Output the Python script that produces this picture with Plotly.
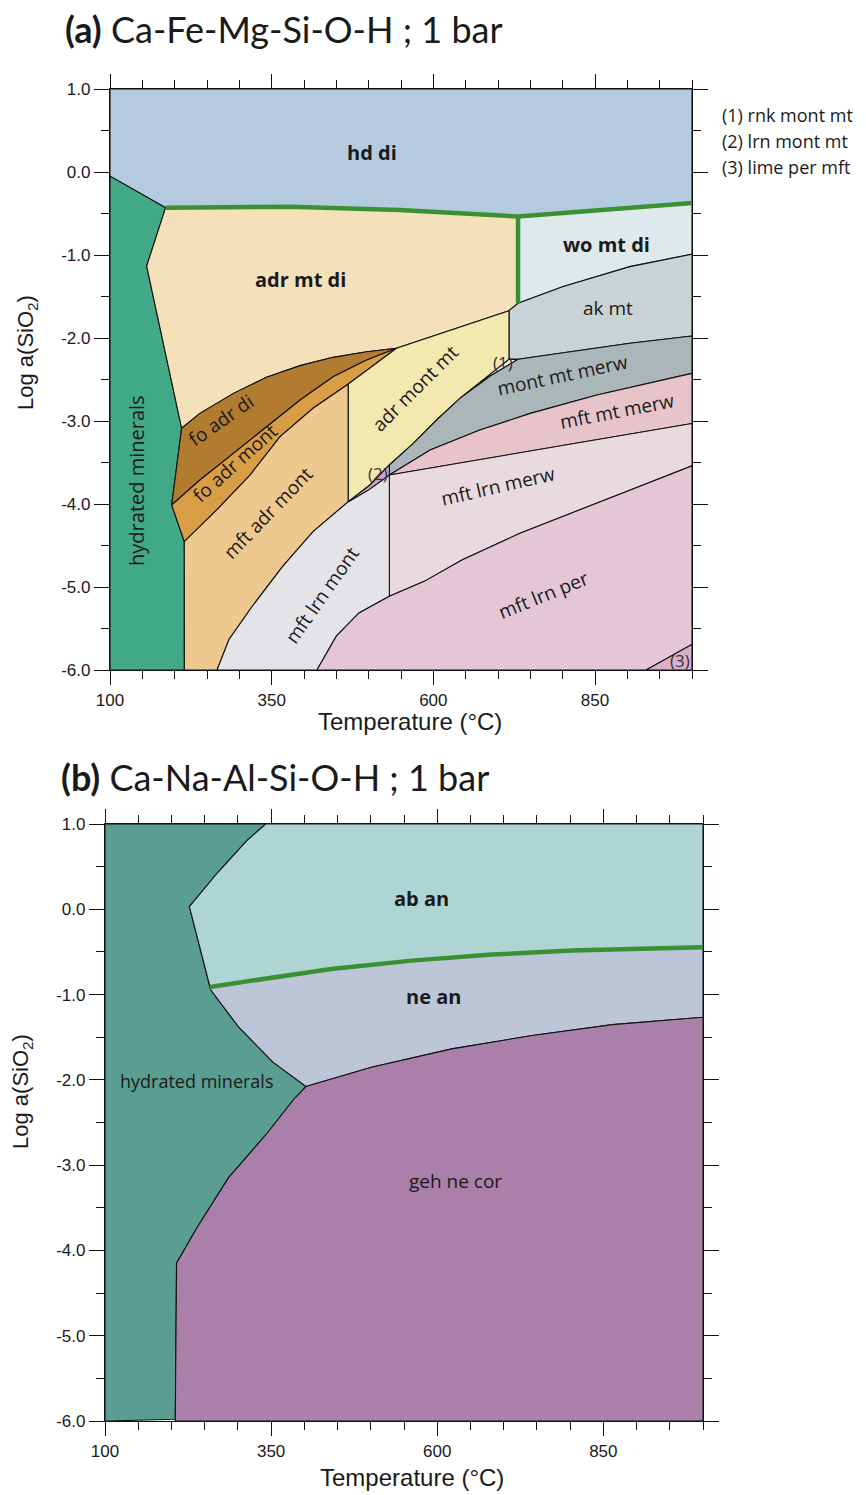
import plotly.graph_objects as go

# ---------------- Panel (a): Ca-Fe-Mg-Si-O-H ; 1 bar -----------------
# Each stability field as polygon vertices: Temperature (°C) and Log a(SiO2)
hd_di_T = [100, 1000, 1000, 731, 657, 548, 378, 186, 100]
hd_di_Y = [1.0, 1.0, -0.373, -0.536, -0.50, -0.458, -0.42, -0.43, -0.05]

hyd_a_T = [100, 186, 156.7, 210.8, 195.4, 214.9, 215, 100]
hyd_a_Y = [-0.05, -0.43, -1.133, -3.088, -4.012, -4.454, -6.0, -6.0]

adr_mt_di_T = [186, 378, 548, 657, 731, 731, 717, 543, 497, 445, 394, 342, 291, 239, 210.8, 156.7]
adr_mt_di_Y = [-0.43, -0.42, -0.458, -0.50, -0.536, -1.582, -1.671, -2.124, -2.165, -2.233,
               -2.333, -2.474, -2.667, -2.908, -3.088, -1.133]

wo_mt_di_T = [731, 731, 1000, 1000, 904, 801]
wo_mt_di_Y = [-1.582, -0.536, -0.373, -0.99, -1.14, -1.38]

ak_mt_T = [717, 717, 731, 801, 904, 1000, 1000, 904, 801, 731]
ak_mt_Y = [-2.257, -1.671, -1.582, -1.38, -1.14, -0.99, -1.976, -2.064, -2.177, -2.257]

fo_adr_di_T = [210.8, 239, 291, 342, 394, 445, 497, 543, 497, 445, 394, 342, 291, 239, 195.4]
fo_adr_di_Y = [-3.088, -2.908, -2.667, -2.474, -2.333, -2.233, -2.165, -2.124,
               -2.265, -2.466, -2.747, -3.068, -3.39, -3.711, -4.012]

fo_adr_mont_T = [195.4, 239, 291, 342, 394, 445, 497, 543, 468.5, 414, 363, 316.5, 265, 214.9]
fo_adr_mont_Y = [-4.012, -3.711, -3.39, -3.068, -2.747, -2.466, -2.265, -2.124,
                 -2.554, -2.847, -3.189, -3.651, -4.072, -4.454]

mft_adr_mont_T = [214.9, 265, 316.5, 363, 414, 468.5, 468.5, 414, 367, 320, 284, 265.5, 215]
mft_adr_mont_Y = [-4.454, -4.072, -3.651, -3.189, -2.847, -2.554, -3.972, -4.332, -4.752,
                  -5.232, -5.632, -6.0, -6.0]

adr_mont_mt_T = [468.5, 543, 717, 717, 677, 641, 605, 569, 532, 502, 468.5]
adr_mont_mt_Y = [-2.554, -2.124, -1.671, -2.257, -2.506, -2.727, -2.988, -3.269, -3.53, -3.771, -3.972]

rnk_mont_mt_T = [641, 677, 717, 731, 688]
rnk_mont_mt_Y = [-2.727, -2.506, -2.257, -2.257, -2.458]

lrn_mont_mt_T = [468.5, 502, 532, 532, 500]
lrn_mont_mt_Y = [-3.972, -3.771, -3.53, -3.65, -3.83]

mont_mt_merw_T = [532, 569, 605, 641, 688, 731, 801, 904, 1000, 1000, 853, 750, 672, 595, 532]
mont_mt_merw_Y = [-3.53, -3.269, -2.988, -2.727, -2.458, -2.257, -2.177, -2.064, -1.976,
                  -2.426, -2.687, -2.908, -3.108, -3.349, -3.65]

mft_mt_merw_T = [532, 595, 672, 750, 853, 1000, 1000]
mft_mt_merw_Y = [-3.65, -3.349, -3.108, -2.908, -2.687, -2.426, -3.03]

mft_lrn_merw_T = [532, 1000, 1000, 852, 734, 645, 586, 532]
mft_lrn_merw_Y = [-3.65, -3.03, -3.54, -3.992, -4.352, -4.672, -4.932, -5.112]

mft_lrn_mont_T = [468.5, 500, 532, 532, 485, 450, 420, 265.5, 284, 320, 367, 414]
mft_lrn_mont_Y = [-3.972, -3.83, -3.65, -5.112, -5.312, -5.592, -6.0, -6.0, -5.632, -5.232, -4.752, -4.332]

mft_lrn_per_T = [420, 450, 485, 532, 586, 645, 734, 852, 1000, 1000, 929]
mft_lrn_per_Y = [-6.0, -5.592, -5.312, -5.112, -4.932, -4.672, -4.352, -3.992, -3.54, -5.692, -6.0]

lime_per_mft_T = [929, 1000, 1000]
lime_per_mft_Y = [-6.0, -5.692, -6.0]

green_a_T = [186, 378, 548, 657, 731, 1000]
green_a_Y = [-0.43, -0.42, -0.458, -0.50, -0.536, -0.373]
green_a_vert_T = [731, 731]
green_a_vert_Y = [-0.536, -1.582]

# ---------------- Panel (b): Ca-Na-Al-Si-O-H ; 1 bar -----------------
hyd_b_T = [100, 341.9, 313.5, 270, 227, 258, 259, 301.4, 352.8, 402.4, 383, 343.7, 286.3,
           237.9, 207.7, 205.8, 100]
hyd_b_Y = [1.0, 1.0, 0.805, 0.434, 0.031, -0.91, -0.945, -1.383, -1.793, -2.078, -2.239,
           -2.629, -3.143, -3.74, -4.149, -5.98, -6.0]

ab_an_T = [341.9, 1000, 1000, 803.4, 682.4, 561.5, 440.5, 258, 227, 270, 313.5]
ab_an_Y = [1.0, 1.0, -0.445, -0.484, -0.531, -0.602, -0.699, -0.91, 0.031, 0.434, 0.805]

ne_an_T = [258, 440.5, 561.5, 682.4, 803.4, 1000, 1000, 863.9, 743, 622, 501, 402.4, 352.8, 301.4, 259]
ne_an_Y = [-0.91, -0.699, -0.602, -0.531, -0.484, -0.445, -1.266, -1.352, -1.48, -1.637,
           -1.852, -2.078, -1.793, -1.383, -0.945]

geh_ne_cor_T = [402.4, 501, 622, 743, 863.9, 1000, 1000, 205.8, 207.7, 237.9, 286.3, 343.7, 383]
geh_ne_cor_Y = [-2.078, -1.852, -1.637, -1.48, -1.352, -1.266, -6.0, -6.0, -4.149, -3.74,
                -3.143, -2.629, -2.239]

green_b_T = [258, 440.5, 561.5, 682.4, 803.4, 1000]
green_b_Y = [-0.91, -0.699, -0.602, -0.531, -0.484, -0.445]

# Axis ticks
x_tickvals = [100, 350, 600, 850]
x_ticktext = ["100", "350", "600", "850"]
y_tickvals = [1, 0, -1, -2, -3, -4, -5, -6]
y_ticktext = ["1.0", "0.0", "-1.0", "-2.0", "-3.0", "-4.0", "-5.0", "-6.0"]

# ---------------------------------------------------------------------
fields_a = [
    (hd_di_T, hd_di_Y, "#b4cbdf"),
    (hyd_a_T, hyd_a_Y, "#42a987"),
    (adr_mt_di_T, adr_mt_di_Y, "#f5e1b9"),
    (wo_mt_di_T, wo_mt_di_Y, "#dfe8ea"),
    (ak_mt_T, ak_mt_Y, "#c9d3d6"),
    (fo_adr_di_T, fo_adr_di_Y, "#b27c30"),
    (fo_adr_mont_T, fo_adr_mont_Y, "#d99d46"),
    (mft_adr_mont_T, mft_adr_mont_Y, "#edc98f"),
    (adr_mont_mt_T, adr_mont_mt_Y, "#f2e8b0"),
    (rnk_mont_mt_T, rnk_mont_mt_Y, "#f3eff3"),
    (mont_mt_merw_T, mont_mt_merw_Y, "#abb6b9"),
    (mft_mt_merw_T, mft_mt_merw_Y, "#e7c3ca"),
    (mft_lrn_merw_T, mft_lrn_merw_Y, "#e8dade"),
    (mft_lrn_mont_T, mft_lrn_mont_Y, "#e4e3e8"),
    (mft_lrn_per_T, mft_lrn_per_Y, "#e4c6d5"),
    (lime_per_mft_T, lime_per_mft_Y, "#d9b0cb"),
    (lrn_mont_mt_T, lrn_mont_mt_Y, "#c9a3cc"),
]
fields_b = [
    (hyd_b_T, hyd_b_Y, "#5a9d91"),
    (ab_an_T, ab_an_Y, "#afd4d4"),
    (ne_an_T, ne_an_Y, "#bcc6d8"),
    (geh_ne_cor_T, geh_ne_cor_Y, "#aa80ab"),
]

fig = go.Figure()


def close(a):
    return list(a) + [a[0]]


for T, Y, col in fields_a:
    fig.add_trace(go.Scatter(x=close(T), y=close(Y), mode="lines", fill="toself",
                             fillcolor=col, line=dict(color="#111111", width=1.1),
                             hoverinfo="skip", xaxis="x", yaxis="y"))
for T, Y, col in fields_b:
    fig.add_trace(go.Scatter(x=close(T), y=close(Y), mode="lines", fill="toself",
                             fillcolor=col, line=dict(color="#111111", width=1.1),
                             hoverinfo="skip", xaxis="x2", yaxis="y2"))

GREEN = "#3a9134"
fig.add_trace(go.Scatter(x=green_a_T, y=green_a_Y, mode="lines",
                         line=dict(color=GREEN, width=4.5), hoverinfo="skip",
                         xaxis="x", yaxis="y"))
fig.add_trace(go.Scatter(x=green_a_vert_T, y=green_a_vert_Y, mode="lines",
                         line=dict(color=GREEN, width=4.5), hoverinfo="skip",
                         xaxis="x", yaxis="y"))
fig.add_trace(go.Scatter(x=green_b_T, y=green_b_Y, mode="lines",
                         line=dict(color=GREEN, width=4.5), hoverinfo="skip",
                         xaxis="x2", yaxis="y2"))

# The page body has an 8 px margin: lay the figure out in page pixels.
OFF = 8
W, H = 866 - OFF, 1495 - OFF


def px(x):
    return (x - OFF) / W


def py(y):
    return 1 - (y - OFF) / H


AX_FONT = dict(family="Liberation Sans, Arial, sans-serif", size=17, color="#1a1a1a")


def xaxis_style(domain, anchor):
    return dict(domain=domain, anchor=anchor, range=[100, 1000], showgrid=False,
                zeroline=False, showline=True, linecolor="#111111", linewidth=1.3,
                mirror="ticks", ticks="outside", ticklen=14, tickwidth=1.3,
                tickcolor="#111111", tickmode="array", tickvals=x_tickvals,
                ticktext=x_ticktext, tickfont=AX_FONT, automargin=False,
                minor=dict(ticks="outside", ticklen=8, tickwidth=1.3, tickcolor="#111111",
                           tick0=100, dtick=50, showgrid=False))


def yaxis_style(domain, anchor):
    return dict(domain=domain, anchor=anchor, range=[-6, 1], showgrid=False,
                zeroline=False, showline=True, linecolor="#111111", linewidth=1.3,
                mirror="ticks", ticks="outside", ticklen=15, tickwidth=1.3,
                tickcolor="#111111", tickmode="array", tickvals=y_tickvals,
                ticktext=y_ticktext, tickfont=AX_FONT, automargin=False,
                minor=dict(ticks="outside", ticklen=8, tickwidth=1.3, tickcolor="#111111",
                           tick0=0, dtick=0.5, showgrid=False))


fig.update_layout(
    width=W, height=H, margin=dict(l=0, r=0, t=0, b=0, pad=0), autosize=False,
    paper_bgcolor="white", plot_bgcolor="white", showlegend=False,
    xaxis=xaxis_style([px(110), px(692)], "y"),
    yaxis=yaxis_style([py(670), py(89)], "x"),
    xaxis2=xaxis_style([px(105), px(703)], "y2"),
    yaxis2=yaxis_style([py(1421), py(824)], "x2"),
)

LBL = "Open Sans, Noto Sans, sans-serif"
ann = []


def lab(x, y, text, ax="x", ay="y", size=19, angle=0, bold=False, color="#1a1a1a"):
    t = f"<b>{text}</b>" if bold else text
    ann.append(dict(x=x, y=y, xref=ax, yref=ay, text=t, showarrow=False, textangle=angle,
                    font=dict(family=LBL, size=size, color=color)))


# panel (a) labels
lab(505, 0.24, "hd di", bold=True, size=20)
lab(394, -1.30, "adr mt di", bold=True, size=20)
lab(868, -0.87, "wo mt di", bold=True, size=20)
lab(870, -1.64, "ak mt")
lab(800, -2.44, "mont mt merw", angle=-12)
lab(884, -2.88, "mft mt merw", angle=-11)
lab(700, -3.78, "mft lrn merw", angle=-13)
lab(770, -5.10, "mft lrn per", angle=-22)
lab(428, -5.10, "mft lrn mont", angle=-55)
lab(344, -4.11, "mft adr mont", angle=-46)
lab(293, -3.50, "fo adr mont", angle=-42)
lab(272, -2.99, "fo adr di", angle=-35)
lab(572, -2.60, "adr mont mt", angle=-45)
lab(142, -3.72, "hydrated minerals", angle=-90, size=20)
lab(708, -2.30, "(1)", size=17, color="#333333")
lab(514, -3.63, "(2)", size=17, color="#333333")
lab(982, -5.89, "(3)", size=17, color="#333333")

# panel (b) labels
lab(576, 0.13, "ab an", ax="x2", ay="y2", bold=True, size=20)
lab(594, -1.02, "ne an", ax="x2", ay="y2", bold=True, size=20)
lab(237, -2.01, "hydrated minerals", ax="x2", ay="y2", size=18)
lab(627, -3.19, "geh ne cor", ax="x2", ay="y2", size=19)


def paper(x, y, text, size, xanchor="center", angle=0, family=LBL):
    ann.append(dict(x=px(x), y=py(y), xref="paper", yref="paper", text=text,
                    showarrow=False, xanchor=xanchor, yanchor="middle", textangle=angle,
                    font=dict(family=family, size=size, color="#1a1a1a")))


# side key
paper(720, 115, "(1) rnk mont mt", 18, xanchor="left")
paper(720, 141, "(2) lrn mont mt", 18, xanchor="left")
paper(720, 167, "(3) lime per mft", 18, xanchor="left")

# titles
TTL = "Lato, Open Sans, sans-serif"
paper(63, 29, "<b>(a)</b> Ca-Fe-Mg-Si-O-H ; 1 bar", 36, xanchor="left", family=TTL)
paper(59, 777, "<b>(b)</b> Ca-Na-Al-Si-O-H ; 1 bar", 36, xanchor="left", family=TTL)

# axis titles
AXT = "Liberation Sans, Arial, sans-serif"
paper(410, 721, "Temperature (°C)", 24, family=AXT)
paper(412, 1477, "Temperature (°C)", 24, family=AXT)
paper(27, 353, "Log a(SiO<sub>2</sub>)", 22, angle=-90, family=AXT)
paper(22, 1092, "Log a(SiO<sub>2</sub>)", 22, angle=-90, family=AXT)

fig.update_layout(annotations=ann)
fig.write_html("out.html")
